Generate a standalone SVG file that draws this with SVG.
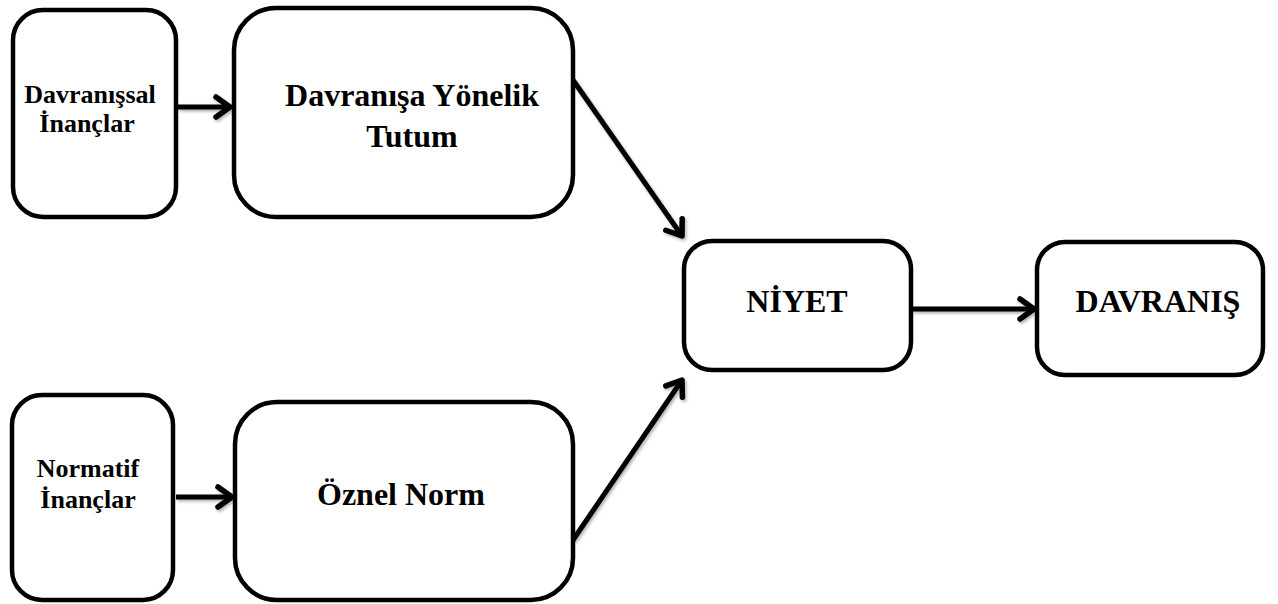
<svg xmlns="http://www.w3.org/2000/svg" width="1278" height="604" viewBox="0 0 1278 604">
<style>
.box{fill:#fff;stroke:#000;stroke-width:4.5}
.lbl{font-family:"Liberation Serif","Times New Roman",serif;font-weight:bold;fill:#000;text-anchor:middle}
.con{stroke:#000;stroke-width:5;fill:none;marker-end:url(#arr);filter:url(#sh)}
</style>
<defs>
<marker id="arr" markerUnits="userSpaceOnUse" markerWidth="34" markerHeight="34" viewBox="-22 -17 34 34" refX="0" refY="0" orient="auto">
<path d="M-14,-10 L0,0 L-14,10" fill="none" stroke="#000" stroke-width="5.5" stroke-linecap="round" stroke-linejoin="round"/>
</marker>
<filter id="sh" filterUnits="userSpaceOnUse" x="0" y="0" width="1278" height="604">
<feDropShadow dx="1.5" dy="2" stdDeviation="1.5" flood-color="#000" flood-opacity="0.3"/>
</filter>
</defs>
<g id="connectors">
<line class="con" x1="178" y1="107" x2="230" y2="107"/>
<line class="con" x1="176" y1="497" x2="232" y2="497"/>
<line class="con" x1="573" y1="80" x2="682" y2="236"/>
<line class="con" x1="573" y1="540" x2="682" y2="380"/>
<line class="con" x1="912" y1="309" x2="1034" y2="309"/>
</g>
<g id="davranissal">
<rect class="box" x="13" y="10" width="163" height="207" rx="30"/>
<text class="lbl" x="90" y="103" font-size="26">Davranışsal</text>
<text class="lbl" x="87" y="132" font-size="26">İnançlar</text>
</g>
<g id="tutum">
<rect class="box" x="234" y="8" width="339" height="209" rx="42"/>
<text class="lbl" x="412" y="106" font-size="32">Davranışa Yönelik</text>
<text class="lbl" x="412" y="147" font-size="32">Tutum</text>
</g>
<g id="normatif">
<rect class="box" x="12" y="395" width="161" height="205" rx="30"/>
<text class="lbl" x="88" y="477" font-size="26">Normatif</text>
<text class="lbl" x="88" y="508" font-size="26">İnançlar</text>
</g>
<g id="oznel">
<rect class="box" x="235" y="402" width="338" height="198" rx="42"/>
<text class="lbl" x="401" y="505" font-size="32">Öznel Norm</text>
</g>
<g id="niyet">
<rect class="box" x="684" y="241" width="227" height="129" rx="28"/>
<text class="lbl" x="797" y="312" font-size="32">NİYET</text>
</g>
<g id="davranis">
<rect class="box" x="1037" y="242" width="226" height="133" rx="28"/>
<text class="lbl" x="1158" y="312" font-size="32">DAVRANIŞ</text>
</g>
</svg>
